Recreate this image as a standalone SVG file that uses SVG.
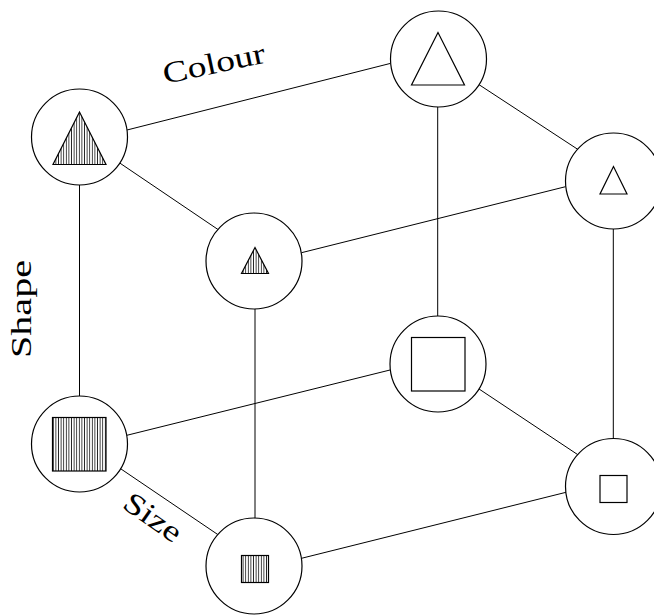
<svg xmlns="http://www.w3.org/2000/svg" width="654" height="615" viewBox="0 0 654 615">
<style>
.node circle{fill:#fff;stroke:#000;stroke-width:1.2}
.shape{stroke:#000;stroke-width:1.2;stroke-linejoin:miter}
.empty{fill:#fff}
.hatched{fill:url(#hatch)}
.edges line{stroke:#000;stroke-width:1}
.lbl{font-family:"Liberation Serif","DejaVu Serif",serif;font-size:30px;fill:#000}
</style>
<defs>
<pattern id="hatch" patternUnits="userSpaceOnUse" width="2.6" height="10">
<rect width="2.6" height="10" fill="#fff"/>
<line x1="1.3" y1="0" x2="1.3" y2="10" stroke="#000" stroke-width="0.8"/>
</pattern>
</defs>
<rect width="654" height="615" fill="#fff"/>
<g id="connectors" class="edges">
<line x1="127" y1="130" x2="390" y2="63.5"/>
<line x1="119" y1="162.5" x2="218" y2="229.5"/>
<line x1="79.5" y1="185" x2="79.5" y2="396"/>
<line x1="478" y1="84" x2="578" y2="149.5"/>
<line x1="437.7" y1="107" x2="437.7" y2="316"/>
<line x1="301.5" y1="252.7" x2="565.5" y2="186.7"/>
<line x1="255" y1="309" x2="255" y2="518"/>
<line x1="613.3" y1="229" x2="613.3" y2="438.5"/>
<line x1="126" y1="435.5" x2="390" y2="370"/>
<line x1="120" y1="468.3" x2="219.5" y2="535.7"/>
<line x1="478" y1="388.3" x2="578.3" y2="455"/>
<line x1="301.5" y1="558.3" x2="566" y2="492.3"/>
</g>
<g id="node-large-filled-triangle" class="node">
<circle cx="79.5" cy="137" r="48"/>
<polygon class="shape hatched" points="79.5,112 53,164.5 106,164.5"/>
</g>
<g id="node-large-empty-triangle" class="node">
<circle cx="438.5" cy="59" r="48"/>
<polygon class="shape empty" points="438,32.5 411.5,85 464.5,85"/>
</g>
<g id="node-small-empty-triangle" class="node">
<circle cx="613.5" cy="181" r="48"/>
<polygon class="shape empty" points="613.5,166.5 600,194 627,194"/>
</g>
<g id="node-small-filled-triangle" class="node">
<circle cx="254" cy="261" r="48"/>
<polygon class="shape hatched" points="255,247.5 241.5,273.5 268.5,273.5"/>
</g>
<g id="node-large-empty-square" class="node">
<circle cx="438" cy="364" r="48"/>
<rect class="shape empty" x="411.5" y="337.5" width="53.5" height="53.5"/>
</g>
<g id="node-large-filled-square" class="node">
<circle cx="79.5" cy="444" r="48"/>
<rect class="shape hatched" x="52.5" y="417.5" width="53.5" height="53.5"/>
</g>
<g id="node-small-empty-square" class="node">
<circle cx="613.5" cy="486.5" r="48"/>
<rect class="shape empty" x="600" y="475.5" width="27" height="27"/>
</g>
<g id="node-small-filled-square" class="node">
<circle cx="254" cy="566" r="48"/>
<rect class="shape hatched" x="241.5" y="555.5" width="27" height="27"/>
</g>
<g id="labels">
<text class="lbl" transform="translate(165,84) rotate(-12)" textLength="104" lengthAdjust="spacingAndGlyphs">Colour</text>
<text class="lbl" transform="translate(31,358) rotate(-90)" textLength="98" lengthAdjust="spacingAndGlyphs">Shape</text>
<text class="lbl" transform="translate(121,507) rotate(35)" textLength="64" lengthAdjust="spacingAndGlyphs">Size</text>
</g>
</svg>
